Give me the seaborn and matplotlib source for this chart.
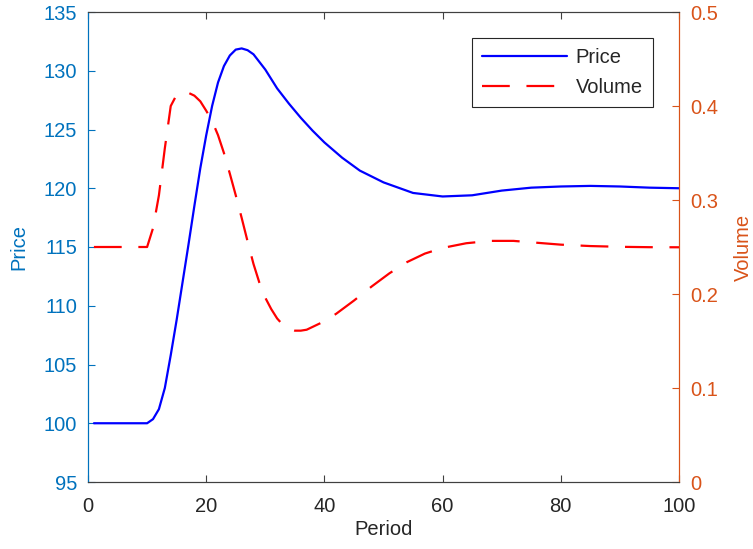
import numpy as np
import pandas as pd
import seaborn as sns
import matplotlib.pyplot as plt

# periods and readings
price_period = [1, 2, 3, 4, 5, 6, 7, 8, 9, 10, 11, 12, 13, 14, 15, 16, 17, 18, 19, 20,
                21, 22, 23, 24, 25, 26, 27, 28, 30, 32, 34, 36, 38, 40, 43, 46, 50, 55,
                60, 65, 70, 75, 80, 85, 90, 95, 100]
price = [100, 100, 100, 100, 100, 100, 100, 100, 100, 100, 100.35, 101.2, 103.0, 105.8,
         108.8, 112.0, 115.2, 118.5, 121.7, 124.5, 127.0, 129.0, 130.4, 131.3, 131.8,
         131.9, 131.75, 131.4, 130.1, 128.5, 127.2, 126.0, 124.9, 123.9, 122.6, 121.5,
         120.5, 119.6, 119.3, 119.4, 119.8, 120.05, 120.15, 120.2, 120.15, 120.05, 120.0]

volume_period = [1, 2, 3, 4, 5, 6, 7, 8, 9, 10, 11, 12, 13, 14, 15, 16, 17, 18, 19, 20,
                 21, 22, 23, 24, 25, 26, 27, 28, 29, 30, 31, 32, 33, 34, 35, 36, 37, 38,
                 40, 42, 45, 48, 51, 54, 57, 60, 64, 68, 72, 76, 80, 85, 90, 95, 100]
volume = [0.25, 0.25, 0.25, 0.25, 0.25, 0.25, 0.25, 0.25, 0.25, 0.25, 0.27, 0.305, 0.355,
          0.400, 0.412, 0.414, 0.414, 0.411, 0.405, 0.395, 0.384, 0.369, 0.350, 0.328,
          0.305, 0.281, 0.256, 0.232, 0.212, 0.196, 0.184, 0.174, 0.167, 0.163, 0.161,
          0.161, 0.162, 0.165, 0.171, 0.179, 0.193, 0.208, 0.222, 0.234, 0.243, 0.249,
          0.254, 0.2565, 0.2565, 0.2545, 0.2525, 0.251, 0.2502, 0.2498, 0.2497]

left_color = "#0072BD"
right_color = "#D95319"
axis_gray = "#262626"
fs = 14.5

sns.set_style("white")
plt.rcParams["font.family"] = ["Liberation Sans", "DejaVu Sans"]
plt.rcParams["font.size"] = fs

price_df = pd.DataFrame({"Period": price_period, "Price": price})
volume_df = pd.DataFrame({"Period": volume_period, "Volume": volume})

fig = plt.figure(figsize=(7.53, 5.49), dpi=100)
ax = fig.add_axes([88 / 753, 1 - 482 / 549, (679 - 88) / 753, (482 - 12) / 549])
ax2 = ax.twinx()

sns.lineplot(data=price_df, x="Period", y="Price", ax=ax, color="blue", lw=1.6, legend=False)
sns.lineplot(data=volume_df, x="Period", y="Volume", ax=ax2, color="red", lw=1.6, legend=False)
ax2.lines[0].set_dashes([12.5, 7.5])

ax.set_xlim(0, 100)
ax.set_ylim(95, 135)
ax2.set_ylim(0, 0.5)
ax.set_xticks(np.arange(0, 101, 20))
ax.set_yticks(np.arange(95, 136, 5))
ax2.set_yticks(np.arange(0, 0.51, 0.1))
ax2.set_yticklabels(["0", "0.1", "0.2", "0.3", "0.4", "0.5"])

ax.set_xlabel("Period", color=axis_gray, fontsize=fs, labelpad=3)
ax.set_ylabel("Price", color=left_color, fontsize=fs, labelpad=11)
ax2.set_ylabel("Volume", color=right_color, fontsize=fs, labelpad=11.5)

for a in (ax, ax2):
    for s in a.spines.values():
        s.set_linewidth(0.8)
        s.set_color("#404040")
    a.spines["left"].set_color(left_color)
    a.spines["right"].set_color(right_color)

ax.tick_params(axis="x", direction="in", top=True, bottom=True, length=5, colors="#404040",
               labelcolor=axis_gray, labelsize=fs, pad=11)
ax.tick_params(axis="y", direction="in", left=True, right=False, length=5, color=left_color,
               labelcolor=left_color, labelsize=fs, pad=8)
ax2.tick_params(axis="y", direction="in", right=True, left=False, length=5, color=right_color,
                labelcolor=right_color, labelsize=fs, pad=8)

handles = ax.get_lines()[:1] + ax2.get_lines()[:1]
leg = ax2.legend(handles, ["Price", "Volume"], loc="upper right", bbox_to_anchor=(0.956, 0.9447),
                 borderaxespad=0, fancybox=False, edgecolor=axis_gray, framealpha=1, fontsize=fs,
                 handlelength=4.2, handletextpad=0.45, borderpad=0.5, labelspacing=0.55)
leg.get_frame().set_linewidth(0.8)

fig.savefig("out.png", dpi=100)
